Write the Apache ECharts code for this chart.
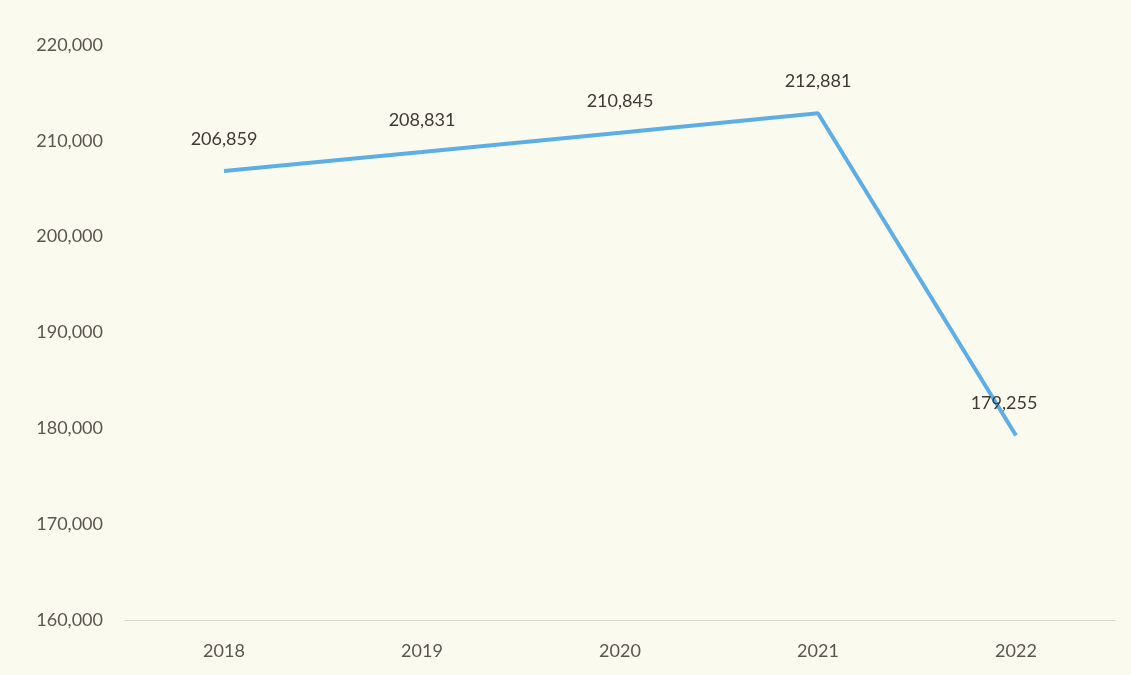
<!DOCTYPE html>
<html>
<head>
<meta charset="utf-8">
<script src="https://cdn.jsdelivr.net/npm/echarts@6/dist/echarts.min.js"></script>
<style>
html,body{margin:0;padding:0;background:#fbfaef;}
#c{width:1131px;height:675px;}
</style>
</head>
<body>
<div id="c"></div>
<script>
const categories = ['2018', '2019', '2020', '2021', '2022'];
const values = [206859, 208831, 210845, 212881, 179255];
const yTicks = { min: 160000, max: 220000, interval: 10000 };

const chart = echarts.init(document.getElementById('c'));
chart.setOption({
  backgroundColor: '#fbfaef',
  animation: false,
  grid: { left: 125, right: 16, top: 45, bottom: 55 },
  xAxis: {
    type: 'category',
    data: categories,
    boundaryGap: true,
    axisLine: { lineStyle: { color: '#dcd9cb', width: 1 } },
    axisTick: { show: false },
    axisLabel: { color: '#5a5650', fontSize: 18, fontFamily: 'Lato, sans-serif', margin: 22 }
  },
  yAxis: {
    type: 'value',
    min: yTicks.min, max: yTicks.max, interval: yTicks.interval,
    axisLine: { show: false },
    axisTick: { show: false },
    splitLine: { show: false },
    axisLabel: {
      color: '#5a5650', fontSize: 18, fontFamily: 'Lato, sans-serif', margin: 22,
      formatter: v => v.toLocaleString('en-US')
    }
  },
  series: [{
    type: 'line',
    data: values.map((v, i) => i === values.length - 1
      ? { value: v, label: { offset: [-12, 0] } }
      : v),
    symbol: 'circle',
    symbolSize: 2,
    showSymbol: true,
    itemStyle: { color: 'rgba(0,0,0,0)', borderWidth: 0 },
    lineStyle: { color: '#5eaee6', width: 4 },
    label: {
      show: true, position: 'top', distance: 22,
      color: '#3f3a36', fontSize: 18, fontFamily: 'Lato, sans-serif',
      formatter: p => p.value.toLocaleString('en-US')
    }
  }]
});
</script>
</body>
</html>
